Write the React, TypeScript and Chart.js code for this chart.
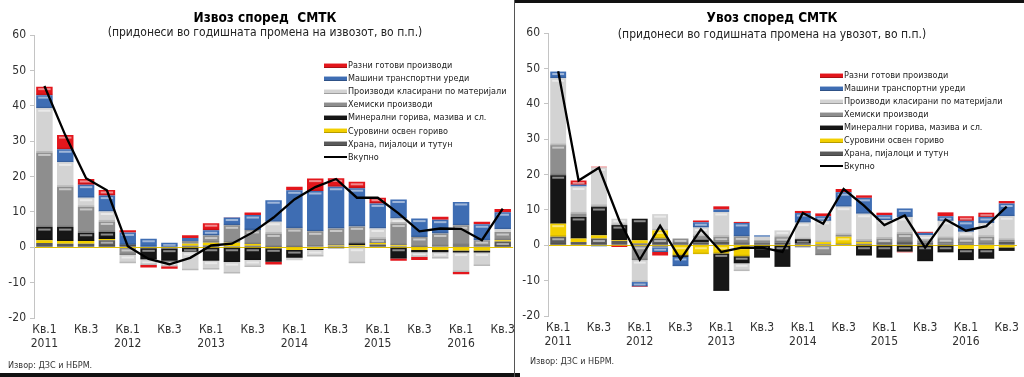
import React, { useEffect, useRef } from "react";
import { Chart, registerables } from "chart.js";

Chart.register(...registerables);

const FONT = '"DejaVu Sans Condensed", "Liberation Sans", sans-serif';

// Tick labels of the 23 quarters (Q1 2011 .. Q3 2016)
const xTickLabels: (string | string[])[] = [
  ["Кв.1", "2011"], "", "Кв.3", "",
  ["Кв.1", "2012"], "", "Кв.3", "",
  ["Кв.1", "2013"], "", "Кв.3", "",
  ["Кв.1", "2014"], "", "Кв.3", "",
  ["Кв.1", "2015"], "", "Кв.3", "",
  ["Кв.1", "2016"], "", "Кв.3",
];

// Series, from bottom of the stack to the top
const seriesNames = [
  "Храна, пијалоци и тутун",
  "Суровини освен гориво",
  "Минерални горива, мазива и сл.",
  "Хемиски производи",
  "Производи класирани по материјали",
  "Машини транспортни уреди",
  "Разни готови производи",
];
const totalName = "Вкупно";
const seriesColors = ["#5a5a5a", "#f2cf00", "#161616", "#8e8e8e", "#d3d3d3", "#3e6db3", "#e3161c"];

// Exports (contributions, p.p.)
const exFood = [1.2, 1.0, 1.0, 2.0, 0.4, -0.3, -0.4, 0.4, 0.5, 0.3, 0.4, 0.1, 0.1, 0.2, 0.3, 0.3, 0.8, 0.3, 0.1, 0.3, 0.6, 0.3, 1.6];
const exRaw = [0.8, 0.8, 0.8, 0.3, -0.2, 0.0, 0.0, 0.6, 0.8, 1.0, 0.5, -0.3, -0.8, -0.4, 0.2, 0.3, 0.4, 0.3, -0.8, -0.8, -0.9, -0.9, 0.4];
const exFuel = [3.7, 3.9, 2.3, 2.0, 0.3, -3.0, -3.4, -1.3, -3.8, -4.2, -3.6, -3.8, -2.2, -0.4, -0.3, 0.5, 0.0, -3.2, -0.6, -0.6, -0.6, -0.6, 0.0];
const exChem = [21.1, 11.4, 7.3, 3.0, -2.0, -0.3, -0.4, 0.8, 2.0, 4.9, 4.0, 3.8, 5.3, 4.3, 4.8, 4.8, 1.2, 6.1, 2.8, 3.6, 5.6, 1.7, 2.3];
const exMat = [12.5, 6.9, 2.6, 2.8, -2.3, -1.4, -1.2, -5.2, -2.5, -3.2, -2.0, 3.3, -0.7, -1.8, 0.0, -4.5, 2.9, 1.4, -1.3, -1.8, -5.5, -3.8, 0.8];
const exMach = [3.7, 3.7, 3.7, 4.5, 3.5, 2.4, 1.3, 0.8, 1.5, 2.2, 4.2, 6.1, 10.7, 11.4, 11.8, 10.8, 7.1, 5.4, 5.2, 3.9, 6.6, 4.5, 4.8];
const exMisc = [2.4, 4.0, 1.6, 1.6, 0.6, -0.7, -0.7, 0.8, 2.0, 0.1, 0.7, -0.8, 1.0, 3.5, 2.4, 1.8, 1.6, -0.6, -0.9, 0.8, -0.6, 0.7, 0.9];
const exTotal = [45.6, 31.7, 19.5, 16.1, 0.3, -3.3, -4.8, -3.0, 0.5, 1.0, 4.2, 8.4, 13.5, 17.0, 19.3, 14.0, 14.0, 9.6, 4.5, 5.3, 5.2, 2.0, 10.9];

// Imports (contributions, p.p.)
const imFood = [2.4, 0.9, 1.9, 1.2, 0.5, 1.9, 0.6, 0.8, 1.0, 0.6, 0.6, 0.8, 0.5, 0.3, 0.3, 0.4, 0.6, 0.9, 0.6, 0.5, 0.5, 0.3, 1.0];
const imRaw = [3.7, 1.0, 0.9, 0.2, 0.9, 2.3, -2.8, -2.5, -2.3, -3.1, 0.0, 0.0, -0.2, 0.6, 2.1, 0.5, 0.0, 0.0, 0.0, 0.0, -1.0, -1.0, -0.6];
const imFuel = [13.7, 6.1, 8.0, 4.3, 6.1, 0.0, -0.5, 0.8, -10.6, -2.0, -3.5, -6.1, 1.2, 0.0, 0.0, -2.9, -3.5, -1.8, -4.5, -2.0, -3.2, -2.8, -1.0];
const imChem = [8.5, 1.0, 0.3, 0.0, -4.2, -0.6, 1.3, 1.0, 1.4, 1.9, 0.8, 1.5, -0.4, -2.8, 0.5, 0.4, 1.3, 2.4, 0.8, 1.5, 1.5, 2.1, 0.5];
const imMat = [18.9, 7.6, 10.9, 1.8, -6.2, 4.6, 0.0, 2.4, 7.0, -2.2, 1.0, 1.9, 4.7, 6.0, 8.0, 7.6, 5.2, 4.7, 1.4, 4.9, 1.8, 3.9, 6.7];
const imMach = [1.9, 0.5, -0.3, 0.0, -1.2, -1.3, -2.6, 1.5, 0.7, 3.8, 0.4, 0.0, 2.7, 1.3, 4.1, 4.5, 1.4, 2.4, 0.7, 1.3, 3.1, 1.7, 3.6];
const imMisc = [0.0, 1.2, 0.2, -0.5, -0.2, -1.0, 0.0, 0.5, 0.9, 0.3, 0.0, 0.0, 0.6, 0.8, 0.9, 0.7, 0.7, -0.2, 0.3, 1.1, 1.3, 1.2, 0.7];
const imTotal = [49.2, 18.3, 21.9, 7.0, -4.1, 5.5, -4.0, 4.5, -1.9, -0.7, -0.7, -1.9, 9.1, 6.1, 15.9, 11.2, 5.7, 8.4, -0.7, 7.3, 4.1, 5.4, 10.9];

const exportSeries = [exFood, exRaw, exFuel, exChem, exMat, exMach, exMisc];
const importSeries = [imFood, imRaw, imFuel, imChem, imMat, imMach, imMisc];

const yMin = -20;
const yMax = 60;
const yStep = 10;

const glossPlugin = {
  id: "gloss",
  afterDatasetDraw(chart: any, args: any) {
    const meta = args.meta;
    if (meta.type !== "bar") return;
    const ctx = chart.ctx;
    ctx.save();
    meta.data.forEach((el: any) => {
      const top = Math.min(el.y, el.base);
      const bottom = Math.max(el.y, el.base);
      const h = bottom - top;
      if (h < 4) return;
      ctx.fillStyle = "rgba(255,255,255,0.5)";
      ctx.fillRect(el.x - el.width / 2 + 2, top + 1.5, el.width - 4, 2);
      ctx.fillStyle = "rgba(0,0,0,0.12)";
      ctx.fillRect(el.x - el.width / 2, bottom - 1.5, el.width, 1.5);
    });
    ctx.restore();
  },
};

type PanelProps = {
  series: number[][];
  total: number[];
  canvasLeft: number;
  canvasWidth: number;
  padLeft: number;
  yWidth: number;
  padRight: number;
  padTop: number;
  padBottom: number;
  xHeight: number;
  barPct: number;
};

function StackChart(p: PanelProps) {
  const ref = useRef<HTMLCanvasElement>(null);
  useEffect(() => {
    const chart = new Chart(ref.current as HTMLCanvasElement, {
      type: "bar",
      data: {
        labels: xTickLabels as any,
        datasets: [
          ...p.series.map((v, i) => ({
            type: "bar" as const,
            label: seriesNames[i],
            data: v,
            backgroundColor: seriesColors[i],
            borderWidth: 0,
            order: 1,
            barPercentage: p.barPct,
            categoryPercentage: 1,
          })),
          {
            type: "line" as const,
            label: totalName,
            data: p.total,
            borderColor: "#000000",
            borderWidth: 2.3,
            pointRadius: 0,
            tension: 0,
            fill: false,
            order: 0,
            stack: "total",
          } as any,
        ],
      },
      options: {
        animation: false,
        responsive: false,
        events: [],
        layout: { padding: { left: p.padLeft, right: p.padRight, top: p.padTop, bottom: p.padBottom } },
        plugins: { legend: { display: false }, tooltip: { enabled: false }, title: { display: false } },
        scales: {
          x: {
            stacked: true,
            grid: { display: false, drawTicks: false },
            border: { display: false },
            ticks: {
              autoSkip: false,
              maxRotation: 0,
              minRotation: 0,
              padding: 5,
              color: "#303030",
              font: { family: FONT, size: 12, lineHeight: 1.15 },
            },
            afterFit: (s: any) => {
              s.height = p.xHeight;
            },
          },
          y: {
            stacked: true,
            min: yMin,
            max: yMax,
            ticks: {
              stepSize: yStep,
              padding: 4,
              color: "#303030",
              font: { family: FONT, size: 12 },
            },
            grid: {
              drawOnChartArea: true,
              color: (c: any) => (c.tick && c.tick.value === 0 ? "#e2c100" : "rgba(0,0,0,0)"),
              lineWidth: 1,
              tickColor: "#c4c4c4",
              tickLength: 4,
            },
            border: { display: true, color: "#c4c4c4", width: 1 },
            afterFit: (s: any) => {
              s.width = p.yWidth;
            },
          },
        },
      } as any,
      plugins: [glossPlugin],
    });
    return () => chart.destroy();
  }, []);
  return (
    <canvas
      ref={ref}
      width={p.canvasWidth}
      height={377}
      style={{ position: "absolute", left: p.canvasLeft, top: 0, width: p.canvasWidth, height: 377 }}
    />
  );
}

function Legend({ left, top, step }: { left: number; top: number; step: number }) {
  const items = [6, 5, 4, 3, 2, 1, 0];
  return (
    <div style={{ position: "absolute", left, top, fontFamily: FONT, fontSize: 9, color: "#222" }}>
      {items.map((idx, r) => (
        <div key={idx} style={{ position: "absolute", left: 0, top: r * step, height: 12, whiteSpace: "nowrap", display: "flex", alignItems: "center" }}>
          <span
            style={{
              display: "inline-block",
              width: 23,
              height: 5,
              marginRight: 1,
              background: seriesColors[idx],
              boxShadow: "inset 0 1px 0 rgba(255,255,255,0.55), inset 0 -1px 0 rgba(0,0,0,0.25)",
            }}
          />
          <span>{seriesNames[idx]}</span>
        </div>
      ))}
      <div style={{ position: "absolute", left: 0, top: 7 * step, height: 12, whiteSpace: "nowrap", display: "flex", alignItems: "center" }}>
        <span style={{ display: "inline-block", width: 23, height: 2, marginRight: 1, background: "#000" }} />
        <span>{totalName}</span>
      </div>
    </div>
  );
}

function TitleBlock({ cx, y1, y2, title, sub }: { cx: number; y1: number; y2: number; title: string; sub: string }) {
  return (
    <>
      <div style={{ position: "absolute", left: cx, top: y1, transform: "translateX(-50%)", whiteSpace: "pre", fontFamily: FONT, fontWeight: "bold", fontSize: 13.5, color: "#000", lineHeight: "16px" }}>
        {title}
      </div>
      <div style={{ position: "absolute", left: cx, top: y2, transform: "translateX(-50%)", whiteSpace: "nowrap", fontFamily: FONT, fontSize: 12, color: "#222", lineHeight: "15px" }}>
        {sub}
      </div>
    </>
  );
}

export default function App() {
  return (
    <div style={{ position: "absolute", left: 0, top: 0, width: 1024, height: 377, background: "#fff", overflow: "hidden" }}>
      <StackChart
        series={exportSeries}
        total={exTotal}
        canvasLeft={0}
        canvasWidth={520}
        padLeft={0}
        yWidth={34}
        padRight={5}
        padTop={35}
        padBottom={19}
        xHeight={40}
        barPct={0.79}
      />
      <StackChart
        series={importSeries}
        total={imTotal}
        canvasLeft={516}
        canvasWidth={508}
        padLeft={0}
        yWidth={32}
        padRight={7}
        padTop={33}
        padBottom={21}
        xHeight={40}
        barPct={0.78}
      />
      <TitleBlock cx={265} y1={9} y2={25} title={"Извоз според  СМТК"} sub="(придонеси во годишната промена на извозот, во п.п.)" />
      <TitleBlock cx={772} y1={9} y2={27} title="Увоз според СМТК" sub="(придонеси во годишната промена на увозот, во п.п.)" />
      <Legend left={324} top={59} step={13.1} />
      <Legend left={820} top={69} step={13} />
      <div style={{ position: "absolute", left: 8, top: 360, fontFamily: FONT, fontSize: 9, color: "#333", whiteSpace: "nowrap" }}>Извор: ДЗС и НБРМ.</div>
      <div style={{ position: "absolute", left: 530, top: 356, fontFamily: FONT, fontSize: 9, color: "#333", whiteSpace: "nowrap" }}>Извор: ДЗС и НБРМ.</div>
      <div style={{ position: "absolute", left: 0, top: 373, width: 520, height: 4, background: "#111" }} />
      <div style={{ position: "absolute", left: 514, top: 0, width: 510, height: 3, background: "#111" }} />
      <div style={{ position: "absolute", left: 514, top: 0, width: 1, height: 377, background: "#555" }} />
    </div>
  );
}
